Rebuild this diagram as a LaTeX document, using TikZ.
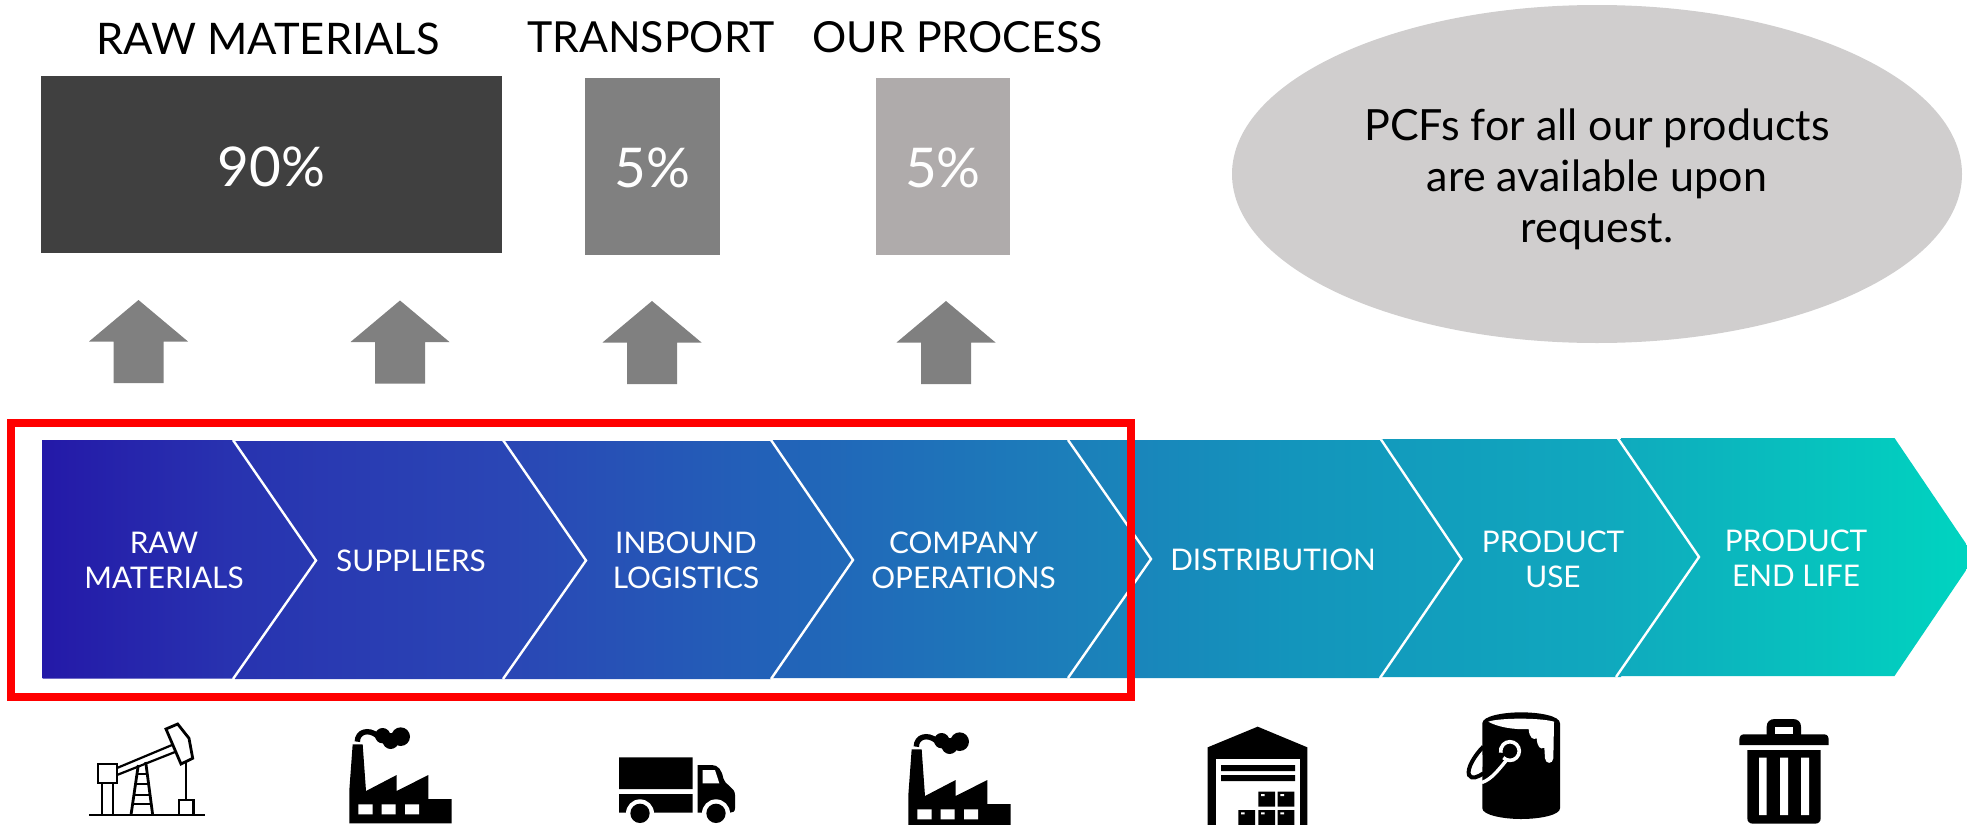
\documentclass[tikz,border=0pt]{standalone}
\usepackage{fontspec}
\setmainfont{Lato}
\definecolor{c0}{HTML}{2419A8}
\definecolor{c1}{HTML}{2833B0}
\definecolor{c2}{HTML}{2A46B5}
\definecolor{c3}{HTML}{2262B8}
\definecolor{c4}{HTML}{1C7EBA}
\definecolor{c5}{HTML}{1395BC}
\definecolor{c6}{HTML}{10A8BE}
\definecolor{c7}{HTML}{08BFBE}
\definecolor{c8}{HTML}{00D4C0}
\pgfdeclarehorizontalshading{chevgrad}{100bp}{
 color(0bp)=(c0); color(25bp)=(c0); color(30bp)=(c1); color(37bp)=(c2); color(44bp)=(c3);
 color(51.5bp)=(c4); color(57.5bp)=(c5); color(65.5bp)=(c6); color(70.5bp)=(c7); color(75bp)=(c8); color(100bp)=(c8)}
\tikzset{
 heading/.style={font=\fontsize{21.4}{24}\selectfont, text=black, inner sep=0pt},
 barbox/.style={inner sep=0pt, text=white, font=\fontsize{27.4}{30}\selectfont},
 uparrow/.style={fill=#1, draw=none},
 stage/.style={text=white, align=center, inner sep=0pt, font=\fontsize{14.9}{17.5}\selectfont},
 chevline/.style={draw=white, line width=1.2pt, line join=miter},
}
\newcommand{\uparr}[3]{\fill[uparrow=#3] (#1,#2) -- (#1+49.5,#2+41.5) -- (#1+25,#2+41.5) -- (#1+25,#2+83) -- (#1-25,#2+83) -- (#1-25,#2+41.5) -- (#1-49.5,#2+41.5) -- cycle;}
\newcommand{\factoryicon}[1]{\begin{scope}[shift={#1},x=0.16667pt,y=-0.16667pt]
 \fill[black] (38,88) -- (68,88) -- (78,228) -- (170,180) -- (170,228) -- (265,180) -- (265,252) -- (335,252) -- (335,325) -- (28,325) -- (28,225) -- cycle;
 \fill[white] (55,268) rectangle (98,298) (125,268) rectangle (167,298) (195,268) rectangle (237,298);
 \draw[black, line width=2.7pt] (52,80) .. controls (52,50) and (85,40) .. (112,62);
 \fill[black] (128,62) circle (23) (152,78) circle (24) (182,65) circle (28);
\end{scope}}
\begin{document}
\begin{tikzpicture}[x=0.5pt,y=-0.5pt]
\useasboundingbox (0,0) rectangle (1967,825);
\clip (0,0) rectangle (1967,825);
% headings
\node[heading, font=\fontsize{21.75}{24}\selectfont] (h1) at (268,39) {RAW MATERIALS};
\node[heading] (h2) at (651,37) {TRANSPORT};
\node[heading] (h3) at (957.5,37) {OUR PROCESS};
% boxes
\node[barbox, fill=black!75!white, minimum width=230.5pt, minimum height=88.5pt] (b1) at (271.5,164.5) {};
\node[barbox] (t1) at (271.5,167) {90\%};
\node[barbox, fill=black!50!white, minimum width=67.5pt, minimum height=88.5pt] (b2) at (652.5,166.5) {};
\node[barbox] (t2) at (652.5,168) {5\%};
\node[barbox, fill={rgb,255:red,175;green,171;blue,171}, minimum width=67pt, minimum height=88.5pt] (b3) at (943,166.5) {};
\node[barbox] (t3) at (943,168) {5\%};
% ellipse
\fill[fill={rgb,255:red,208;green,206;blue,206}] (1597,174) ellipse [x radius=365, y radius=169];
\node[text=black, inner sep=0pt, font=\fontsize{21.5}{25.5}\selectfont, align=center] (note) at (1597,179.5) {PCFs for all our products\\are available upon\\request.};
% arrows
\uparr{138.5}{300}{black!50!white}
\uparr{400}{300.5}{black!50!white}
\uparr{652}{301}{black!50!white}
\uparr{946}{301}{black!50!white}
% chevron band
\begin{scope}
 \clip (42.5,440) -- (233,440) -- (235,441) -- (771,441) -- (771,440) -- (1381,440) -- (1381,439) -- (1621,439) -- (1621,438) -- (1894.5,438) -- (1975,557) -- (1894.5,676) -- (1621,676) -- (1621,677) -- (1379,677) -- (1379,678) -- (771,678) -- (771,679) -- (235,679) -- (233,678.5) -- (42.5,678.5) -- cycle;
 \shade[shading=chevgrad] (42.5,430) rectangle (1967,690);
\end{scope}
\draw[chevline] (233,440) -- (316,560.5) -- (233,679);
\draw[chevline] (503,440) -- (586,560.5) -- (503,679);
\draw[chevline] (771,440) -- (853,560) -- (771,679);
\draw[chevline] (1068,440) -- (1151,559) -- (1068,678);
\draw[chevline] (1381,439.5) -- (1461.5,559) -- (1380,678);
\draw[chevline] (1618,438.5) -- (1699,557) -- (1616,677);
% red frame
\draw[red, line width=4pt] (11,423) rectangle (1130.5,696.5);
% stage labels
\node[stage] (s1) at (164,560) {RAW\\MATERIALS};
\node[stage] (s2) at (411,560.5) {SUPPLIERS};
\node[stage] (s3) at (686,560) {INBOUND\\LOGISTICS};
\node[stage] (s4) at (963.5,560) {COMPANY\\OPERATIONS};
\node[stage] (s5) at (1273,559.5) {DISTRIBUTION};
\node[stage] (s6) at (1553,559) {PRODUCT\\USE};
\node[stage] (s7) at (1796,558) {PRODUCT\\END LIFE};
% oil pump
\begin{scope}[black, line width=1.4pt, line join=miter]
 \draw (89,815) -- (205,815);
 \draw (98,764) rectangle (117,783);
 \draw (102,783) -- (102,815) (113,783) -- (113,815);
 \draw[line width=1.1pt] (117,768) -- (172,745) (117,775) -- (175,752);
 \draw (166,729) -- (177.7,724) -- (189,738.3) -- (192.7,758.3) -- (181,764) -- cycle;
 \draw[line width=1.2pt] (186,763) -- (186,800);
 \draw (179,800) rectangle (193.3,815);
 \draw (138.3,765) -- (131,815) (145.7,762) -- (152.7,815);
 \draw[line width=1.1pt] (137,774) -- (147.3,774) (135.5,784) -- (148.6,784) (134,795) -- (150,795) (132.5,804) -- (151.3,804);
\end{scope}
% factories
\factoryicon{(340,715)}
\factoryicon{(899,720)}
% truck
\begin{scope}[shift={(610,745)},x=0.16667pt,y=-0.16667pt]
 \fill[black] (27,37) rectangle (248,132) (27,147) rectangle (248,203);
 \fill[black] (263,60) -- (305,60) .. controls (325,60) and (335,75) .. (340,100) .. controls (343,120) and (375,125) .. (375,150) -- (375,190) .. controls (375,200) and (368,203) .. (360,203) -- (263,203) -- cycle;
 \fill[white] (278,75) -- (315,75) -- (328,115) -- (278,115) -- cycle;
 \fill[white] (90,205) circle (42) (318,205) circle (42);
 \fill[black] (90,205) circle (29) (318,205) circle (29);
\end{scope}
% warehouse
\begin{scope}[shift={(1190,715)},x=0.16667pt,y=-0.16667pt]
 \fill[black] (53,97) -- (203,35) -- (352,97) -- (352,340) -- (53,340) -- cycle;
 \fill[white] (78,133) rectangle (330,340);
 \fill[black] (93,150) rectangle (315,168) (93,180) rectangle (315,198);
 \fill[black] (205,230) rectangle (255,275) (263,230) rectangle (313,275) (145,285) rectangle (195,340) (205,285) rectangle (255,340) (263,285) rectangle (313,340);
 \fill[white] (213,237) rectangle (224,243) (271,237) rectangle (282,243) (153,292) rectangle (164,298) (213,292) rectangle (224,298) (271,292) rectangle (282,298);
\end{scope}
% bucket
\begin{scope}[shift={(1450,705)},x=0.16667pt,y=-0.16667pt]
 \fill[black] (97,55) .. controls (97,33) and (160,22) .. (213,22) .. controls (270,22) and (330,33) .. (330,55) -- (330,310) .. controls (330,330) and (270,342) .. (213,342) .. controls (160,342) and (97,330) .. (97,310) -- cycle;
 \draw[black, line width=2pt] (100,125) .. controls (75,150) and (50,190) .. (57,210) .. controls (65,225) and (85,215) .. (100,205);
 \fill[white] (115,50) .. controls (150,38) and (270,38) .. (312,50) -- (310,160) .. controls (308,178) and (287,178) .. (285,160) -- (283,128) .. controls (270,135) and (262,125) .. (260,100) .. controls (250,105) and (238,100) .. (236,72) .. controls (190,75) and (140,65) .. (115,50) -- cycle;
 \fill[white] (97,150) -- (85,165) -- (75,200) -- (97,185) -- cycle;
 \draw[white, line width=1.7pt, line cap=round] (97,232) .. controls (125,222) and (145,195) .. (170,165);
 \draw[white, line width=1.8pt] (160,158) arc[start angle=135, end angle=-190, radius=28];
 \fill[black] (178,140) circle (18);
\end{scope}
% trash
\begin{scope}[shift={(1720,705)},x=0.16667pt,y=-0.16667pt]
 \fill[black] (140,95) -- (140,65) .. controls (140,50) and (150,42) .. (165,42) -- (218,42) .. controls (233,42) and (243,50) .. (243,65) -- (243,95) -- cycle;
 \fill[white] (165,65) rectangle (218,88);
 \fill[black] (58,120) -- (58,105) .. controls (58,95) and (62,88) .. (72,88) -- (312,88) .. controls (322,88) and (326,95) .. (326,105) -- (326,120) -- cycle;
 \fill[black] (82,135) -- (302,135) -- (302,340) .. controls (302,350) and (295,356) .. (285,356) -- (99,356) .. controls (89,356) and (82,350) .. (82,340) -- cycle;
 \fill[white] (117,158) rectangle (140,330) (180,158) rectangle (204,330) (243,158) rectangle (267,330);
\end{scope}
\end{tikzpicture}
\end{document}
